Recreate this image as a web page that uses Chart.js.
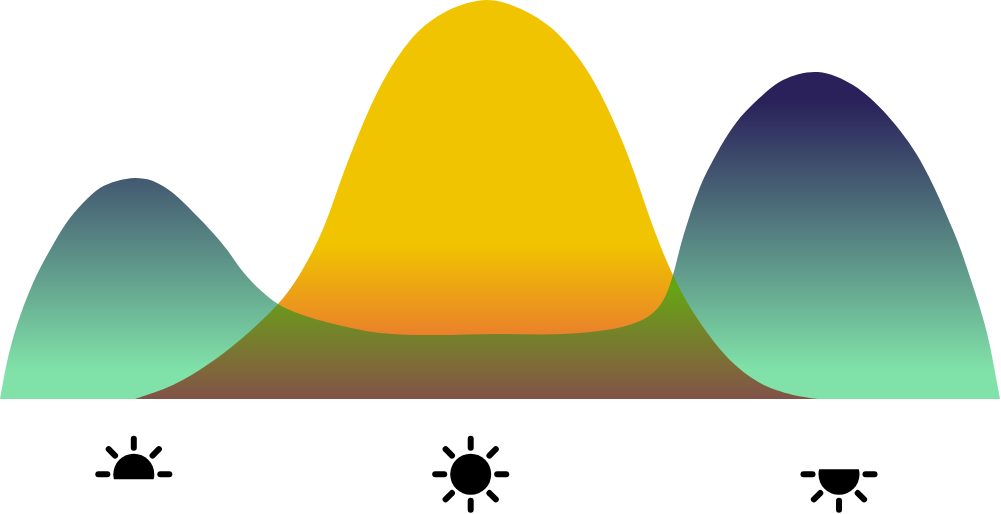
<!DOCTYPE html>
<html>
<head>
<meta charset="utf-8">
<title>Day curves</title>
<script src="https://cdn.jsdelivr.net/npm/chart.js@4"></script>
<style>
  html, body { margin: 0; padding: 0; background: #fff; }
  canvas { display: block; }
</style>
</head>
<body>
<canvas id="dayChart" width="1001" height="514"></canvas>
<script>
// values
const dayX = [135, 173, 207, 240, 278, 300, 323, 348, 380, 413, 447, 487, 523, 557, 590, 623, 655, 673, 693, 727, 760, 793, 818];
const dayY = [0, 14, 34, 59, 95, 125, 170, 238, 312, 362, 388, 399, 389, 366, 324, 256, 167, 124, 87, 42, 16, 4, 0];

const nightX = [0, 7, 17, 33, 50, 67, 83, 100, 117, 135, 153, 173, 193, 213, 228, 240, 257, 278, 300, 330, 380, 430, 497, 563, 613, 640, 655, 665, 673, 683, 700, 717, 733, 750, 783, 818, 853, 887, 920, 953, 970, 987, 1000];
const nightY = [0, 37, 74, 116, 149, 177, 196, 211, 218, 221, 218, 206, 187, 166, 148, 131, 112, 95, 85, 76, 66, 64, 65, 65, 70, 78, 88, 102, 124, 162, 212, 246, 272, 292, 319, 327, 314, 284, 239, 169, 122, 66, 0];

const sunX = [133.8, 470.7, 839];
const sunKinds = ["rise", "noon", "set"];

function dayFill(context) {
  const { ctx, chartArea, scales } = context.chart;
  if (!chartArea) return "#f0c400";
  const g = ctx.createLinearGradient(0, scales.y.getPixelForValue(154), 0, scales.y.getPixelForValue(0));
  g.addColorStop(0, "#f0c400");
  g.addColorStop(1, "#e55248");
  return g;
}

function nightFill(context) {
  const { ctx, chartArea, scales } = context.chart;
  if (!chartArea) return "#2a205a";
  const g = ctx.createLinearGradient(0, scales.y.getPixelForValue(299), 0, scales.y.getPixelForValue(29));
  g.addColorStop(0, "#2a205a");
  g.addColorStop(1, "#80e2a8");
  return g;
}

// the overlap of the two areas is the darker of both colours
const darkenOverlap = {
  id: "darkenOverlap",
  beforeDatasetsDraw(chart) {
    chart.ctx.save();
    chart.ctx.globalCompositeOperation = "darken";
  },
  afterDatasetsDraw(chart) {
    chart.ctx.restore();
  },
};

const sunIcons = {
  id: "sunIcons",
  afterDraw(chart) {
    const { ctx, scales } = chart;
    const cy = 474.3;
    const r = 20.5;
    sunX.forEach((x, i) => {
      const cx = scales.x.getPixelForValue(x);
      const kind = sunKinds[i];
      ctx.save();
      ctx.fillStyle = "#000";
      ctx.strokeStyle = "#000";
      ctx.lineWidth = 6;
      ctx.lineCap = "round";

      ctx.save();
      ctx.beginPath();
      if (kind === "rise") ctx.rect(cx - 30, cy - 30, 60, 35);
      if (kind === "set") ctx.rect(cx - 30, cy - 5, 60, 35);
      if (kind === "noon") ctx.rect(cx - 30, cy - 30, 60, 60);
      ctx.clip();
      ctx.beginPath();
      ctx.arc(cx, cy, r, 0, Math.PI * 2);
      ctx.fill();
      ctx.restore();

      for (let k = 0; k < 8; k++) {
        const a = (k * Math.PI) / 4;
        const up = Math.sin(a) < -0.01;
        const down = Math.sin(a) > 0.01;
        if (kind === "rise" && down) continue;
        if (kind === "set" && up) continue;
        ctx.beginPath();
        ctx.moveTo(cx + Math.cos(a) * 26.5, cy + Math.sin(a) * 26.5);
        ctx.lineTo(cx + Math.cos(a) * 35.5, cy + Math.sin(a) * 35.5);
        ctx.stroke();
      }
      ctx.restore();
    });
  },
};

new Chart(document.getElementById("dayChart"), {
  type: "line",
  data: {
    datasets: [
      {
        label: "night",
        data: nightX.map((x, i) => ({ x, y: nightY[i] })),
        backgroundColor: nightFill,
        fill: "origin",
        borderWidth: 0,
        pointRadius: 0,
        tension: 0.33,
      },
      {
        label: "day",
        data: dayX.map((x, i) => ({ x, y: dayY[i] })),
        backgroundColor: dayFill,
        fill: "origin",
        borderWidth: 0,
        pointRadius: 0,
        tension: 0.33,
      },
    ],
  },
  options: {
    responsive: false,
    animation: false,
    layout: { padding: { left: 0, right: 1, top: 0, bottom: 115 } },
    scales: {
      x: { type: "linear", display: false, min: 0, max: 1000 },
      y: { display: false, min: 0, max: 399 },
    },
    plugins: {
      legend: { display: false },
      tooltip: { enabled: false },
    },
  },
  plugins: [darkenOverlap, sunIcons],
});
</script>
</body>
</html>
